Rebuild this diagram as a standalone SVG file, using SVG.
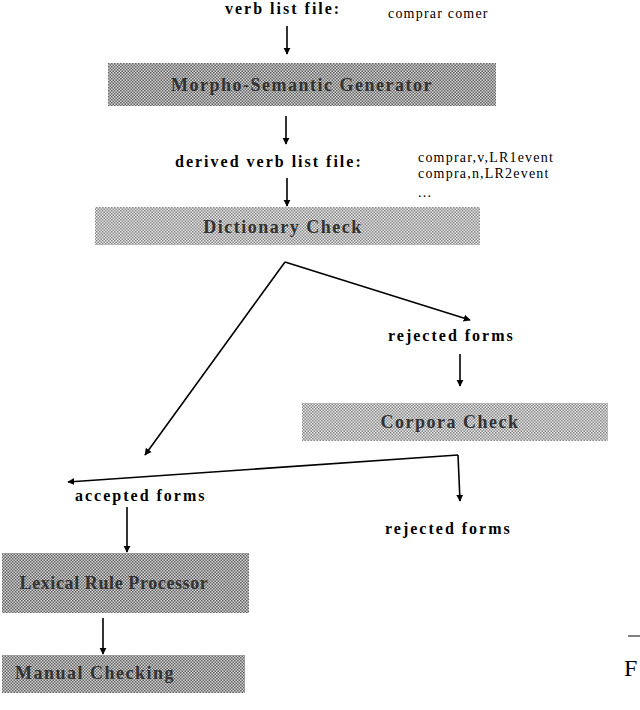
<svg xmlns="http://www.w3.org/2000/svg" width="640" height="710" viewBox="0 0 640 710">
<defs>
<pattern id="chk" width="3" height="3" patternUnits="userSpaceOnUse"><rect width="3" height="3" fill="#d0d0d0"/><rect width="1.5" height="1.5" fill="#666"/><rect x="1.5" y="1.5" width="1.5" height="1.5" fill="#666"/></pattern>
<pattern id="chkl" width="3" height="3" patternUnits="userSpaceOnUse"><rect width="3" height="3" fill="#e4e4e4"/><rect width="1.5" height="1.5" fill="#8a8a8a"/><rect x="1.5" y="1.5" width="1.5" height="1.5" fill="#8a8a8a"/></pattern>
<marker id="ah" viewBox="0 0 10 10" refX="9" refY="5" markerWidth="7" markerHeight="9" orient="auto" markerUnits="userSpaceOnUse"><path d="M0,0 L10,5 L0,10 z" fill="#000"/></marker>
<style>
.b{font-family:"Liberation Serif",serif;font-weight:bold;font-size:16px;fill:#000;letter-spacing:2px}
.n{font-family:"Liberation Serif",serif;font-size:14px;fill:#000;letter-spacing:1.2px}
.bt{font-family:"Liberation Serif",serif;font-weight:bold;font-size:18px;fill:#333;text-anchor:middle;letter-spacing:1.5px}
.c{stroke:#000;stroke-width:1.6;fill:none;marker-end:url(#ah)}
</style>
</defs>
<rect width="640" height="710" fill="#fff"/>
<g id="labels">
<text class="b" x="225" y="14">verb list file:</text>
<text class="n" x="388" y="18">comprar comer</text>
<text class="b" x="175" y="167">derived verb list file:</text>
<text class="n" x="418" y="162">comprar,v,LR1event</text>
<text class="n" x="418" y="178">compra,n,LR2event</text>
<text class="n" x="418" y="197">...</text>
<text class="b" x="388" y="341">rejected forms</text>
<text class="b" x="75" y="501">accepted forms</text>
<text class="b" x="385" y="534">rejected forms</text>
</g>
<g id="n-msg"><rect x="108" y="63" width="388" height="43" fill="url(#chk)"/><text class="bt" x="302" y="91">Morpho-Semantic Generator</text></g>
<g id="n-dict"><rect x="95" y="207" width="385" height="38" fill="url(#chkl)"/><text class="bt" x="283" y="233">Dictionary Check</text></g>
<g id="n-corp"><rect x="302" y="403" width="306" height="38" fill="url(#chkl)"/><text class="bt" x="450" y="428">Corpora Check</text></g>
<g id="n-lrp"><rect x="2" y="553" width="247" height="60" fill="url(#chk)"/><text class="bt" x="114" y="589" style="letter-spacing:0.6px">Lexical Rule Processor</text></g>
<g id="n-man"><rect x="2" y="655" width="243" height="38" fill="url(#chk)"/><text class="bt" x="95" y="679">Manual Checking</text></g>
<g id="connectors">
<line class="c" x1="287" y1="26" x2="287" y2="54"/>
<line class="c" x1="286" y1="116" x2="286" y2="144"/>
<line class="c" x1="287" y1="178" x2="287" y2="206"/>
<line class="c" x1="285" y1="262" x2="145" y2="455"/>
<line class="c" x1="285" y1="262" x2="470" y2="320"/>
<line class="c" x1="460" y1="354" x2="460" y2="386"/>
<line class="c" x1="458" y1="455" x2="68" y2="482"/>
<line class="c" x1="458" y1="455" x2="460" y2="501"/>
<line class="c" x1="127" y1="507" x2="127" y2="552"/>
<line class="c" x1="103" y1="618" x2="103" y2="654"/>
</g>
<g id="fragment"><line x1="628" y1="636" x2="640" y2="636" stroke="#000" stroke-width="1"/><text x="624" y="676" style="font-family:'Liberation Serif',serif;font-size:24px">F</text></g>
</svg>
